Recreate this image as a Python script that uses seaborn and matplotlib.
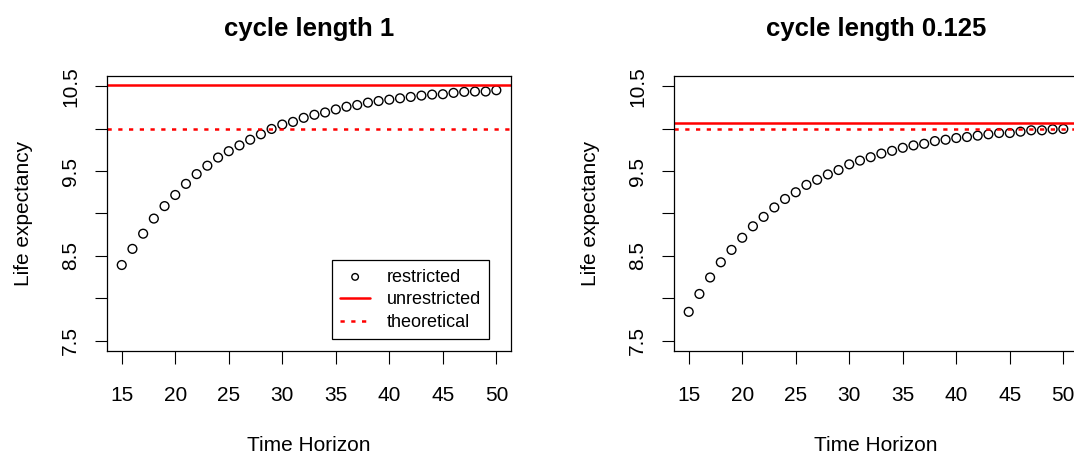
import numpy as np
import matplotlib
matplotlib.use("Agg")
import matplotlib.pyplot as plt
import seaborn as sns

# time horizons shown on the x axis
horizon = list(range(15, 51))

# restricted life expectancy, cycle length 1
restricted_c1 = [8.393, 8.583, 8.762, 8.940, 9.087, 9.218, 9.349, 9.464, 9.563, 9.659,
                 9.734, 9.802, 9.869, 9.933, 9.996, 10.048, 10.079, 10.127, 10.163, 10.190,
                 10.226, 10.258, 10.278, 10.306, 10.325, 10.341, 10.357, 10.373, 10.389, 10.401,
                 10.405, 10.421, 10.433, 10.437, 10.437, 10.452]

# restricted life expectancy, cycle length 0.125
restricted_c0125 = [7.841, 8.052, 8.246, 8.425, 8.571, 8.714, 8.849, 8.960, 9.071, 9.171,
                    9.250, 9.337, 9.397, 9.460, 9.512, 9.579, 9.623, 9.663, 9.706, 9.738,
                    9.774, 9.802, 9.821, 9.853, 9.869, 9.889, 9.901, 9.917, 9.933, 9.948,
                    9.948, 9.964, 9.980, 9.980, 9.992, 9.996]

unrestricted = [10.515, 10.063]
theoretical = [10.0, 10.0]
titles = ["cycle length 1", "cycle length 0.125"]
legend_labels = ["restricted", "unrestricted", "theoretical"]

yticks = [7.5, 8.0, 8.5, 9.0, 9.5, 10.0, 10.5]
ytick_labels = ["7.5", "", "8.5", "", "9.5", "", "10.5"]
xticks = [15, 20, 25, 30, 35, 40, 45, 50]

sns.set_theme(style="white")
plt.rcParams["font.family"] = ["Liberation Sans", "DejaVu Sans"]
plt.rcParams["text.color"] = "black"
plt.rcParams["axes.labelcolor"] = "black"


def draw_panel(ax, values, unres, theo, title, show_legend):
    sns.scatterplot(x=horizon, y=values, ax=ax, marker="o", s=40,
                    facecolor="none", edgecolor="black", linewidth=1.0,
                    label=legend_labels[0], legend=False)
    ax.axhline(unres, color="red", lw=1.8, label=legend_labels[1])
    ax.axhline(theo, color="red", lw=1.8, linestyle=(0, (1.7, 2.6)),
               label=legend_labels[2])

    ax.set_xlim(13.6, 51.4)
    ax.set_ylim(7.38, 10.62)
    ax.set_xticks(xticks)
    ax.set_yticks(yticks)
    ax.set_yticklabels(ytick_labels)
    ax.tick_params(axis="both", direction="out", length=9, width=0.8,
                   color="black", labelsize=15, labelcolor="black",
                   bottom=True, left=True)
    ax.tick_params(axis="x", pad=16)
    ax.tick_params(axis="y", pad=10, labelrotation=90)
    for lab in ax.get_yticklabels():
        lab.set_va("center")

    for sp in ax.spines.values():
        sp.set_visible(True)
        sp.set_color("black")
        sp.set_linewidth(0.9)

    ax.set_xlabel("Time Horizon", fontsize=15)
    ax.set_ylabel("Life expectancy", fontsize=15)
    ax.xaxis.set_label_coords(0.5, -0.342)
    ax.xaxis.label.set_va("center")
    ax.yaxis.set_label_coords(-0.205, 0.5)
    ax.yaxis.label.set_va("center")

    ax.set_title(title, fontsize=18.5, fontweight="bold", y=1.172, va="center", pad=0)

    if show_legend:
        leg = ax.legend(loc="lower right", bbox_to_anchor=(0.945, 0.0425),
                        fontsize=13, frameon=True, fancybox=False,
                        edgecolor="black", framealpha=1, borderpad=0.45,
                        labelspacing=0.32, handlelength=1.7, handletextpad=0.9,
                        markerscale=0.75, borderaxespad=0)
        leg.get_frame().set_linewidth(0.9)


fig = plt.figure(figsize=(10.74, 4.55), dpi=100)
ax1 = fig.add_axes([0.0994, 0.2286, 0.3767, 0.6044])
ax2 = fig.add_axes([0.6273, 0.2286, 0.3767, 0.6044])

draw_panel(ax1, restricted_c1, unrestricted[0], theoretical[0], titles[0], True)
draw_panel(ax2, restricted_c0125, unrestricted[1], theoretical[1], titles[1], False)

fig.savefig("out.png", dpi=100)
